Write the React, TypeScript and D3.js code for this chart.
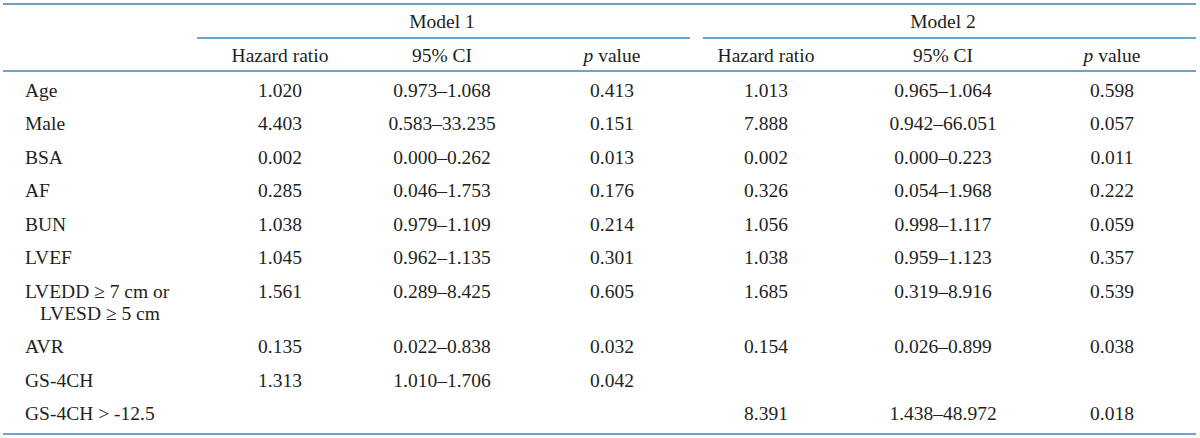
import React from "react";
import * as d3 from "d3";

const rowLabels: string[][] = [
  ["Age"],
  ["Male"],
  ["BSA"],
  ["AF"],
  ["BUN"],
  ["LVEF"],
  ["LVEDD ≥ 7 cm or", "LVESD ≥ 5 cm"],
  ["AVR"],
  ["GS-4CH"],
  ["GS-4CH > -12.5"],
];

const m1HR = ["1.020", "4.403", "0.002", "0.285", "1.038", "1.045", "1.561", "0.135", "1.313", ""];
const m1CI = ["0.973–1.068", "0.583–33.235", "0.000–0.262", "0.046–1.753", "0.979–1.109", "0.962–1.135", "0.289–8.425", "0.022–0.838", "1.010–1.706", ""];
const m1P = ["0.413", "0.151", "0.013", "0.176", "0.214", "0.301", "0.605", "0.032", "0.042", ""];
const m2HR = ["1.013", "7.888", "0.002", "0.326", "1.056", "1.038", "1.685", "0.154", "", "8.391"];
const m2CI = ["0.965–1.064", "0.942–66.051", "0.000–0.223", "0.054–1.968", "0.998–1.117", "0.959–1.123", "0.319–8.916", "0.026–0.899", "", "1.438–48.972"];
const m2P = ["0.598", "0.057", "0.011", "0.222", "0.059", "0.357", "0.539", "0.038", "", "0.018"];

const modelNames = ["Model 1", "Model 2"];
const colKeys = ["hr1", "ci1", "p1", "hr2", "ci2", "p2"];
const colHeaders = ["Hazard ratio", "95% CI", "p value", "Hazard ratio", "95% CI", "p value"];
const columns = [m1HR, m1CI, m1P, m2HR, m2CI, m2P];

const W = 1200;
const H = 438;
const FONT = "'Liberation Serif', 'Times New Roman', serif";
const FS = 19.5;
const TEXT = "#231f20";
const BLUE = "#2f8ac3";
const TOPBLUE = "#6d9fc2";

const xCol = d3.scaleOrdinal<string, number>().domain(colKeys).range([280, 442, 612, 766, 943, 1112]);

const firstRowCenter = 90;
const pitch = 33.5;
const lineGap = 22;
// cumulative row offsets
const rowHeights = rowLabels.map((l) => pitch + (l.length - 1) * lineGap);
const rowStarts = rowHeights.map((_, i) => d3.sum(rowHeights.slice(0, i)));
const yRow = d3.scaleLinear().domain([0, 1]).range([firstRowCenter, firstRowCenter + 1]);

const capShift = 6.5;

export default function App() {
  const lineX0 = 3;
  const lineX1 = 1196;
  return (
    <svg
      width={W}
      height={H}
      viewBox={`0 0 ${W} ${H}`}
      style={{ position: "absolute", left: 0, top: 0, display: "block", background: "#fff" }}
      fontFamily={FONT}
      fontSize={FS}
      fill={TEXT}
    >
      <rect x={0} y={0} width={W} height={H} fill="#fff" />
      {/* top rule */}
      <line x1={lineX0} x2={lineX1} y1={4} y2={4} stroke={TOPBLUE} strokeWidth={2} />
      {/* model headers */}
      {modelNames.map((m, i) => (
        <text key={m} x={xCol(colKeys[i * 3 + 1])} y={28} textAnchor="middle">
          {m}
        </text>
      ))}
      <line x1={197} x2={690} y1={38} y2={38} stroke={BLUE} strokeWidth={1.6} />
      <line x1={703} x2={lineX1} y1={38} y2={38} stroke={BLUE} strokeWidth={1.6} />
      {/* column headers */}
      {colHeaders.map((h, i) => (
        <text key={i} x={xCol(colKeys[i])} y={62} textAnchor="middle">
          {h.startsWith("p ") ? (
            <>
              <tspan fontStyle="italic">p</tspan>
              <tspan> value</tspan>
            </>
          ) : (
            h
          )}
        </text>
      ))}
      <line x1={lineX0} x2={lineX1} y1={71} y2={71} stroke={BLUE} strokeWidth={1.6} />
      {/* rows */}
      {rowLabels.map((lbls, r) => {
        const yc = yRow(rowStarts[r]);
        return (
          <g key={r}>
            {lbls.map((l, j) => (
              <text key={j} x={j === 0 ? 25 : 40} y={yc + j * lineGap + capShift}>
                {l}
              </text>
            ))}
            {columns.map((col, c) =>
              col[r] ? (
                <text key={c} x={xCol(colKeys[c])} y={yc + capShift} textAnchor="middle">
                  {col[r]}
                </text>
              ) : null
            )}
          </g>
        );
      })}
      <line x1={lineX0} x2={lineX1} y1={434} y2={434} stroke={BLUE} strokeWidth={1.6} />
    </svg>
  );
}
